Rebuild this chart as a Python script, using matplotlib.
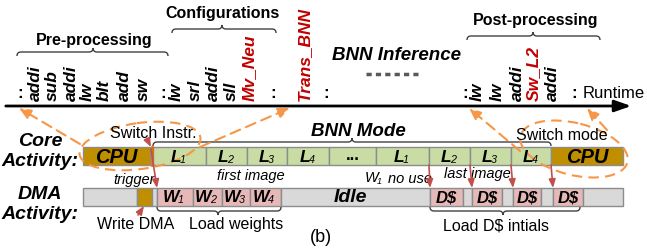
import matplotlib
matplotlib.use("Agg")
import matplotlib.pyplot as plt
from matplotlib.path import Path
from matplotlib.patches import PathPatch, Rectangle, Ellipse

plt.rcParams['font.family'] = ['Liberation Sans', 'DejaVu Sans']

# instruction stream on the runtime axis (":" marks skipped code)
instr_labels = [':', 'addi', 'sub', 'addi', 'lw', 'blt', 'add', 'sw', ':',
                'lw', 'srl', 'addi', 'sll', 'Mv_Neu', ':', 'Trans_BNN', ':',
                ':', 'lw', 'lw', 'addi', 'Sw_L2', 'addi', ':']
instr_x = [20, 35, 52, 71, 87, 104, 124, 143, 163,
           176, 195, 213, 231, 249, 273, 304, 326,
           465, 477, 497, 517, 533, 552, 574]
custom_instr = ['Mv_Neu', 'Trans_BNN', 'Sw_L2']

# core activity row: (label, subscript, x start, x end, kind)
core_blocks = [('CPU', '', 83, 150, 'cpu'),
               ('L', '1', 153, 206, 'bnn'), ('L', '2', 206, 247, 'bnn'),
               ('L', '3', 247, 287, 'bnn'), ('L', '4', 287, 329, 'bnn'),
               ('...', '', 329, 376, 'bnn'),
               ('L', '1', 376, 429, 'bnn'), ('L', '2', 429, 470, 'bnn'),
               ('L', '3', 470, 511, 'bnn'), ('L', '4', 511, 551, 'bnn'),
               ('CPU', '', 551, 623, 'cpu')]

# DMA activity row
dma_blocks = [('', '', 83, 137, 'idle'), ('', '', 137, 152, 'cpu'),
              ('', '', 152, 157, 'idle'),
              ('W', '1', 157, 193, 'load'), ('W', '2', 193, 222, 'load'),
              ('W', '3', 222, 250, 'load'), ('W', '4', 250, 281, 'load'),
              ('Idle', '', 281, 430, 'idle'),
              ('D$', '', 430, 463, 'load'), ('', '', 463, 472, 'idle'),
              ('D$', '', 472, 502, 'load'), ('', '', 502, 513, 'idle'),
              ('D$', '', 513, 541, 'load'), ('', '', 541, 553, 'idle'),
              ('D$', '', 553, 583, 'load'), ('', '', 583, 623, 'idle')]

fill = {'cpu': '#bf8f00', 'bnn': '#c9dca4', 'load': '#e6b9b8', 'idle': '#d9d9d9'}
red = '#c00000'
arrow_red = '#c0504d'
orange = '#f79646'
edge = '#8c8c8c'

fig = plt.figure(figsize=(6.47, 2.53), dpi=100)
ax = fig.add_axes([0, 0, 1, 1])
ax.set_xlim(0, 647)
ax.set_ylim(253, 0)
ax.axis('off')


def bracket(x0, x1, xm, y, h, r=4):
    # curly-ish brace: ends bend towards y+h, notch points to y-h
    verts = [(x0, y + h), (x0, y), (x0 + r, y), (xm - r, y), (xm, y), (xm, y - h),
             (xm, y), (xm + r, y), (x1 - r, y), (x1, y), (x1, y + h)]
    codes = [Path.MOVETO, Path.CURVE3, Path.CURVE3, Path.LINETO, Path.CURVE3,
             Path.CURVE3, Path.CURVE3, Path.CURVE3, Path.LINETO, Path.CURVE3,
             Path.CURVE3]
    ax.add_patch(PathPatch(Path(verts, codes), fc='none', ec='#404040', lw=1.0))


def sub_label(xr, y, main, sub, size, weight='bold'):
    # main letter ends at xr, small italic index tucked right after it
    ax.text(xr, y, main, ha='right', va='center', fontsize=size,
            fontweight=weight, style='italic')
    ax.text(xr - 1.5, y + 3, sub, ha='left', va='center', fontsize=size * 0.62,
            style='italic')


# runtime axis
ax.annotate('', xy=(634, 107), xytext=(3, 107),
            arrowprops=dict(arrowstyle='-|>,head_length=1.0,head_width=0.35',
                            color='black', lw=2))
ax.text(583, 93, 'Runtime', ha='left', va='center', fontsize=12)

for lab, x in zip(instr_labels, instr_x):
    if lab == ':':
        ax.text(x, 101, ':', ha='center', va='bottom', fontsize=12, fontweight='bold')
    else:
        ax.text(x, 101, lab, rotation=90, ha='center', va='bottom', fontsize=12.5,
                fontweight='bold', style='italic',
                color=red if lab in custom_instr else 'black')

# phase brackets above the instructions
bracket(17, 168, 93, 53, 4)
ax.text(94, 40, 'Pre-processing', ha='center', va='center', fontsize=11.5, fontweight='bold')
bracket(172, 276, 222, 30, 4)
ax.text(222, 13, 'Configurations', ha='center', va='center', fontsize=11.5, fontweight='bold')
bracket(467, 600, 533, 37, 4)
ax.text(536, 20, 'Post-processing', ha='center', va='center', fontsize=11.5, fontweight='bold')
ax.text(397, 55, 'BNN Inference', ha='center', va='center', fontsize=13.5,
        fontweight='bold', style='italic')
ax.plot([366, 418], [75, 75], color='#595959', lw=2.5, ls=(0, (1.5, 1.2)))

# row titles
ax.text(40, 142, 'Core', ha='center', va='center', fontsize=14, fontweight='bold', style='italic')
ax.text(40, 161, 'Activity:', ha='center', va='center', fontsize=14, fontweight='bold', style='italic')
ax.text(40, 195, 'DMA', ha='center', va='center', fontsize=14, fontweight='bold', style='italic')
ax.text(40, 215, 'Activity:', ha='center', va='center', fontsize=14, fontweight='bold', style='italic')

# core row
cy0, cy1 = 148, 166
for lab, sub, x0, x1, kind in core_blocks:
    ax.add_patch(Rectangle((x0, cy0), x1 - x0, cy1 - cy0, fc=fill[kind], ec=edge, lw=1))
    cx = (x0 + x1) / 2
    if kind == 'cpu':
        ax.text(cx, 157.5, lab, ha='center', va='center', fontsize=14.5,
                fontweight='bold', style='italic')
    elif lab == '...':
        ax.text(cx, 156, lab, ha='center', va='center', fontsize=12, fontweight='bold')
    else:
        sub_label(cx + 2, 157, lab, sub, 12.5)
ax.plot([151.5, 151.5], [cy0, cy1], color='#e46c0a', lw=2)

# dma row
dy0, dy1 = 189, 207
for lab, sub, x0, x1, kind in dma_blocks:
    ax.add_patch(Rectangle((x0, dy0), x1 - x0, dy1 - dy0, fc=fill[kind], ec=edge, lw=1))
    cx = (x0 + x1) / 2
    if lab == 'Idle':
        ax.text(cx - 5, 198, lab, ha='center', va='center', fontsize=14,
                fontweight='bold', style='italic')
    elif lab == 'D$':
        ax.text(cx, 198, lab, ha='center', va='center', fontsize=12,
                fontweight='bold', style='italic')
    elif lab:
        sub_label(cx + 4, 197.5, lab, sub, 12.5)

# brackets and notes around the rows
bracket(153, 551, 352, 143, 4)
ax.text(358, 132, 'BNN Mode', ha='center', va='center', fontsize=13.5,
        fontweight='bold', style='italic')
bracket(157, 281, 218, 212, -4)
ax.text(236, 225, 'Load weights', ha='center', va='center', fontsize=11.5)
bracket(430, 580, 503, 212, -4)
ax.text(496, 226, 'Load D$ intials', ha='center', va='center', fontsize=11.5)
ax.text(136, 225, 'Write DMA', ha='center', va='center', fontsize=11.5)
ax.text(321, 238, '(b)', ha='center', va='center', fontsize=13)

ax.text(153, 134, 'Switch Instr.', ha='center', va='center', fontsize=11.5)
ax.text(562, 135, 'Switch mode', ha='center', va='center', fontsize=11.5)
ax.text(134, 180, 'trigger', ha='center', va='center', fontsize=10.5, style='italic')
ax.text(251, 176, 'first image', ha='center', va='center', fontsize=10.5, style='italic')
ax.text(477, 174, 'last image', ha='center', va='center', fontsize=10.5, style='italic')
sub_label(378, 178, 'W', '1', 10.5, weight='normal')
ax.text(388, 179, 'no use', ha='left', va='center', fontsize=10.5, style='italic')

# red trigger arrows
red_arrow = dict(arrowstyle='-|>,head_length=0.5,head_width=0.2', color=arrow_red, lw=1.2,
                 shrinkA=0, shrinkB=0)
ax.annotate('', xy=(151, 148), xytext=(147, 140), arrowprops=red_arrow)
ax.annotate('', xy=(157, 189), xytext=(151, 150), arrowprops=red_arrow)
ax.annotate('', xy=(144, 207), xytext=(138, 216), arrowprops=red_arrow)
for xs, xe in [(429, 430), (470, 472), (511, 513), (551, 553)]:
    ax.annotate('', xy=(xe, 189), xytext=(xs, 166), arrowprops=red_arrow)

# orange dashed highlights
ax.add_patch(Ellipse((140, 147), 122, 46, angle=-8, fill=False, ec=orange, lw=1.5, ls=(0, (5, 3))))
ax.add_patch(Ellipse((574, 150), 110, 52, angle=14, fill=False, ec=orange, lw=1.5, ls=(0, (5, 3))))
orange_arrow = dict(arrowstyle='-|>,head_length=0.7,head_width=0.3', color=orange, lw=1.5,
                    ls=(0, (5, 3)), shrinkA=0, shrinkB=0)
for tail, head in [((80, 145), (19, 109)), ((200, 148), (290, 109)),
                   ((520, 152), (469, 109)), ((607, 131), (587, 109))]:
    ax.annotate('', xy=head, xytext=tail, arrowprops=orange_arrow)

fig.savefig('out.png', dpi=100)
